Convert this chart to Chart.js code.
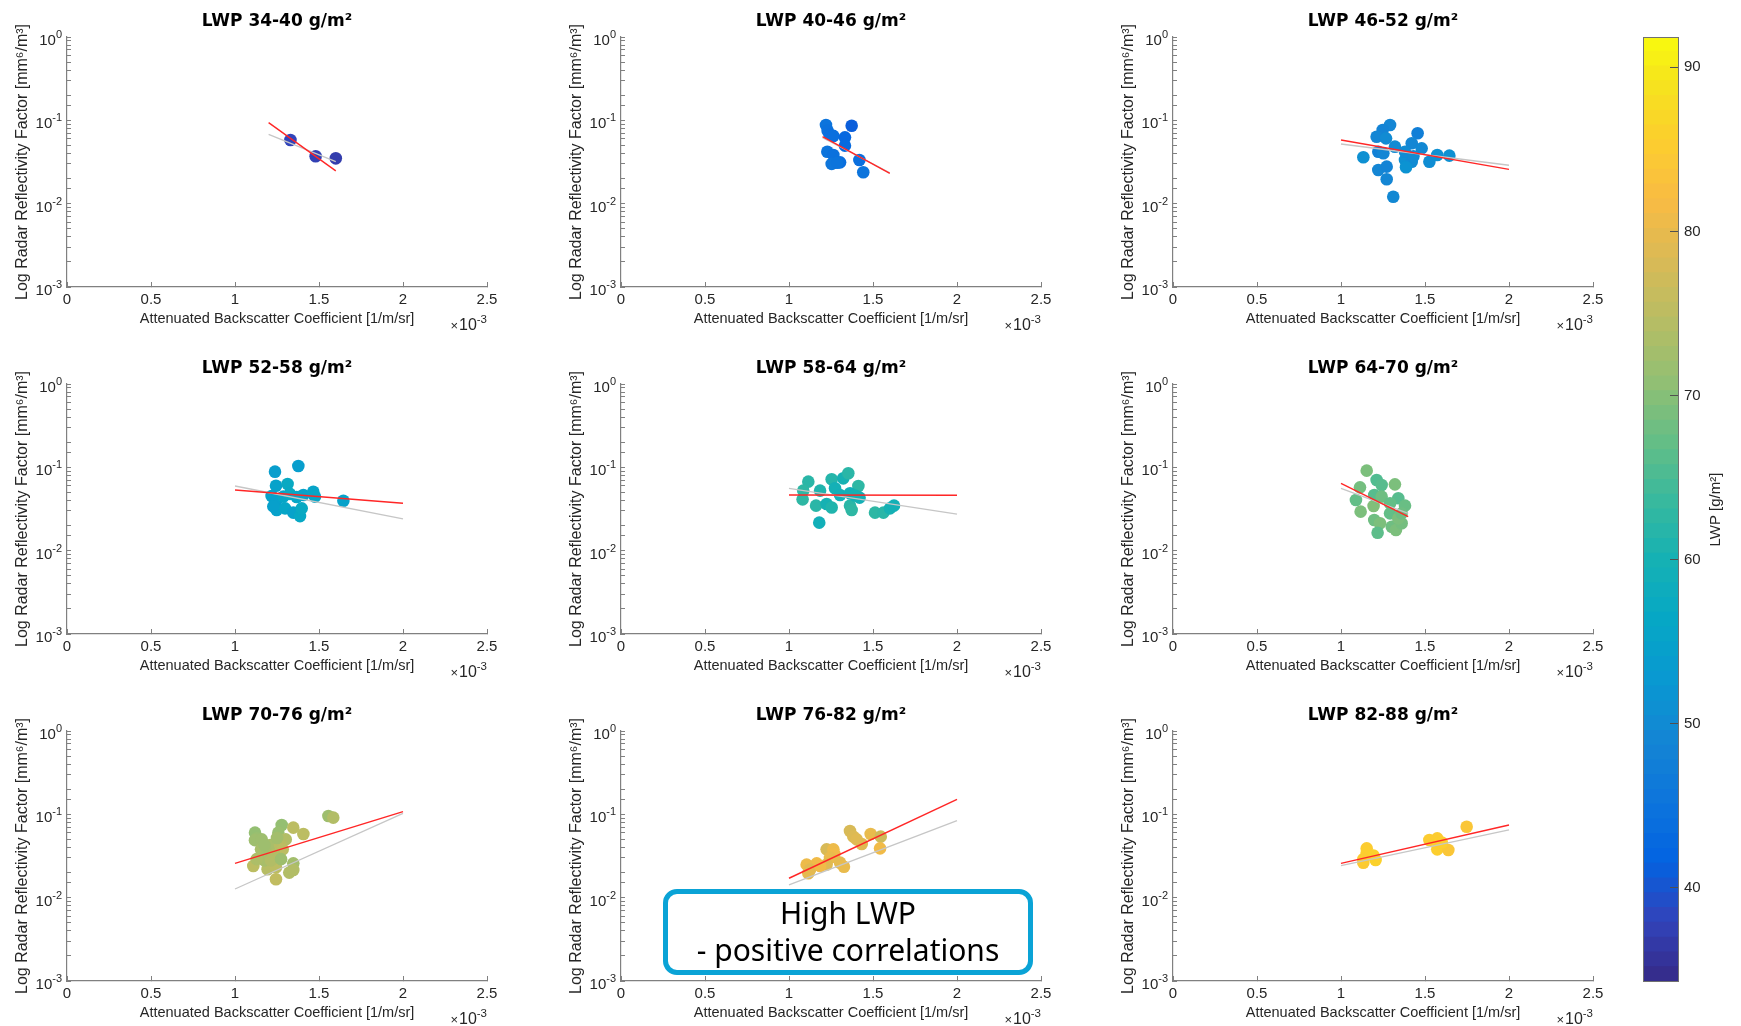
<!DOCTYPE html>
<html>
<head>
<meta charset="utf-8">
<script src="https://cdn.jsdelivr.net/npm/chart.js@4.4.1/dist/chart.umd.min.js"></script>
<style>
    html, body { margin: 0; padding: 0; background: #fff; width: 1741px; height: 1026px; overflow: hidden; }
    body { position: relative; }
    canvas { position: absolute; }
    #note {
        position: absolute; left: 663px; top: 889px; width: 360px; height: 76px;
        border: 5px solid #0aa3d6; border-radius: 14px; background: #fff; z-index: 5;
        font-family: "Noto Sans", sans-serif; font-size: 30px; line-height: 37px;
        text-align: center; color: #000;
    }
</style>
</head>
<body>
<div id="note">High LWP<br>- positive correlations</div>
<script>
// ===== DATA =====
// x in units of 1e-3 1/m/sr, y in mm^6/m^3, lwp in g/m^2 (colour)
const panelTitles = [
    "LWP 34-40 g/m²", "LWP 40-46 g/m²", "LWP 46-52 g/m²",
    "LWP 52-58 g/m²", "LWP 58-64 g/m²", "LWP 64-70 g/m²",
    "LWP 70-76 g/m²", "LWP 76-82 g/m²", "LWP 82-88 g/m²",
];

const xValues = [
    [1.33, 1.48, 1.60],
    [1.22, 1.23, 1.244, 1.264, 1.373, 1.333, 1.333, 1.228, 1.264, 1.254, 1.304, 1.286, 1.419, 1.442],
    [1.133, 1.292, 1.248, 1.212, 1.268, 1.222, 1.252, 1.321, 1.456, 1.421, 1.48, 1.381, 1.421, 1.387, 1.526, 1.573, 1.645, 1.222, 1.272, 1.272, 1.311, 1.381, 1.431],
    [1.238, 1.377, 1.244, 1.313, 1.218, 1.248, 1.248, 1.298, 1.347, 1.387, 1.397, 1.407, 1.466, 1.476, 1.645, 1.288, 1.327, 1.367, 1.228],
    [1.115, 1.085, 1.081, 1.185, 1.161, 1.18, 1.254, 1.323, 1.353, 1.413, 1.274, 1.304, 1.224, 1.254, 1.363, 1.373, 1.42, 1.512, 1.562, 1.601, 1.625, 1.363, 1.393],
    [1.153, 1.212, 1.242, 1.321, 1.113, 1.089, 1.117, 1.194, 1.198, 1.242, 1.198, 1.232, 1.218, 1.292, 1.302, 1.327, 1.361, 1.341, 1.341, 1.381, 1.361, 1.292],
    [1.556, 1.585, 1.278, 1.258, 1.347, 1.407, 1.119, 1.129, 1.119, 1.159, 1.302, 1.21, 1.268, 1.284, 1.155, 1.194, 1.234, 1.109, 1.194, 1.244, 1.244, 1.323, 1.347, 1.347, 1.175, 1.129, 1.214, 1.274, 1.175, 1.25],
    [1.363, 1.383, 1.433, 1.486, 1.546, 1.542, 1.403, 1.224, 1.264, 1.27, 1.244, 1.304, 1.327, 1.224, 1.165, 1.105, 1.125, 1.115, 1.185],
    [1.133, 1.153, 1.153, 1.133, 1.193, 1.206, 1.526, 1.573, 1.579, 1.573, 1.639, 1.748, 1.6],
];

const yValues = [
    [0.058, 0.037, 0.035],
    [0.088, 0.075, 0.067, 0.065, 0.086, 0.0625, 0.0497, 0.042, 0.0384, 0.03, 0.0313, 0.031, 0.0334, 0.0238],
    [0.036, 0.088, 0.0766, 0.0636, 0.0608, 0.042, 0.0402, 0.0483, 0.0699, 0.053, 0.0461, 0.0334, 0.0319, 0.0273, 0.0319, 0.0384, 0.0377, 0.0254, 0.0278, 0.0196, 0.0121, 0.042, 0.037],
    [0.0887, 0.1038, 0.06, 0.063, 0.0453, 0.0406, 0.0308, 0.0322, 0.0286, 0.026, 0.0322, 0.0466, 0.051, 0.0445, 0.0398, 0.0445, 0.048, 0.044, 0.034],
    [0.0673, 0.0525, 0.0413, 0.0525, 0.0347, 0.0217, 0.0718, 0.0738, 0.0848, 0.0597, 0.056, 0.0466, 0.0363, 0.033, 0.0347, 0.0308, 0.0433, 0.0286, 0.0286, 0.0322, 0.0347, 0.0488, 0.046],
    [0.0912, 0.0705, 0.0614, 0.0625, 0.0575, 0.0406, 0.0294, 0.0344, 0.0466, 0.0445, 0.0233, 0.0213, 0.0164, 0.028, 0.0194, 0.0177, 0.0213, 0.0244, 0.0425, 0.0347, 0.028, 0.037],
    [0.0955, 0.0912, 0.0745, 0.0603, 0.0692, 0.058, 0.0603, 0.0515, 0.049, 0.05, 0.05, 0.0428, 0.0428, 0.038, 0.038, 0.034, 0.0325, 0.024, 0.0219, 0.0231, 0.0166, 0.02, 0.0258, 0.0215, 0.028, 0.029, 0.028, 0.029, 0.043, 0.052],
    [0.063, 0.054, 0.044, 0.058, 0.054, 0.039, 0.05, 0.038, 0.038, 0.0334, 0.03, 0.0263, 0.0235, 0.025, 0.0258, 0.0249, 0.0217, 0.0196, 0.024],
    [0.0263, 0.039, 0.0347, 0.029, 0.032, 0.0283, 0.0492, 0.0515, 0.044, 0.038, 0.0373, 0.0711, 0.046],
];

const lwpValues = [
    [38, 37.5, 37],
    [45, 44.5, 44, 44, 41, 42.5, 43, 45, 44.5, 45.5, 44, 45, 44, 45],
    [51, 49, 48.5, 49, 50, 48, 49, 50, 47.5, 49, 49.5, 51, 50, 51.5, 50.5, 51, 51, 49, 48.5, 49, 49.5, 50, 50],
    [54, 54, 55, 57, 55, 54.5, 55, 56, 55, 56.5, 57, 55, 55.5, 56, 55, 56, 57, 56, 54.5],
    [62, 62.5, 62.5, 61, 62, 59, 61.5, 60, 62, 62.5, 59.5, 59, 60, 61, 62, 62.5, 59.5, 62.5, 62, 60, 59.5, 59, 60],
    [69, 65.5, 66, 69, 68.5, 67, 69, 69.5, 66, 68, 68, 69, 66.5, 67, 68, 69, 68.5, 69, 66, 67.5, 68, 67],
    [72, 74, 71, 71.5, 75, 75, 71, 71.5, 72, 72, 74, 73, 74.5, 75, 73, 72.5, 74, 75, 74.5, 75, 75.5, 74, 72.5, 74, 73, 73.5, 74, 72, 72, 72.5],
    [78, 78.5, 79, 80, 77, 81, 79, 78, 80.5, 81, 80, 79.5, 80, 79, 81, 80.5, 79, 79.5, 81],
    [84.5, 85, 85.5, 85, 86, 86, 85, 85, 86, 85.5, 84, 84, 85.5],
];

// fit lines (end points)
const redFitX = [[1.2, 1.6], [1.2, 1.6], [1.0, 2.0], [1.0, 2.0], [1.0, 2.0], [1.0, 1.4], [1.0, 2.0], [1.0, 2.0], [1.0, 2.0]];
const redFitY = [[0.094, 0.0247], [0.0636, 0.0231], [0.058, 0.0258], [0.0535, 0.037], [0.0466, 0.0463], [0.0643, 0.0256], [0.0258, 0.1076], [0.0171, 0.151], [0.0258, 0.0745]];
const grayFitX = [[1.2, 1.6], [1.2, 1.6], [1.0, 2.0], [1.0, 2.0], [1.0, 2.0], [1.0, 1.4], [1.0, 2.0], [1.0, 2.0], [1.0, 2.0]];
const grayFitY = [[0.068, 0.032], [0.062, 0.0235], [0.052, 0.0289], [0.0597, 0.024], [0.056, 0.0275], [0.056, 0.028], [0.0127, 0.1028], [0.0142, 0.0839], [0.0242, 0.0649]];

// ticks
const xTicks = [0, 0.5, 1, 1.5, 2, 2.5];
const xTickLabels = ["0", "0.5", "1", "1.5", "2", "2.5"];
const yDecades = [1, 0.1, 0.01, 0.001];
const yExpLabels = ["0", "-1", "-2", "-3"];
const cbTicks = [40, 50, 60, 70, 80, 90];
const CB_MIN = 34.24;
const CB_MAX = 91.85;

// ===== STYLE / LAYOUT =====
const FONT = '"Liberation Sans", Arial, sans-serif';
const TITLE_FONT = '"DejaVu Sans", sans-serif';
const TXC = "#262626";
const AXC = "#808080";
const plotLeft = [67, 621, 1173];
const plotTop = [37, 384, 731];
const PW = 420, PH = 250;
const AXW = 67, TH = 37, XAH = 47, PR = 25;

Chart.defaults.font.family = FONT;

// parula colormap stops
const parulaStops = ["#352a87", "#3243ba", "#0363e1", "#0d75dc", "#1485d4", "#0998d1", "#06a7c6", "#15b1b4",
    "#38b99e", "#65be86", "#92bf73", "#b7bd64", "#d9ba56", "#f8bb44", "#fcce2e", "#f5e41d", "#f9fb0e"];
const stopPos = [0, 4, 8, 12, 16, 20, 24, 28, 32, 36, 40, 44, 48, 52, 56, 60, 63].map((i) => i / 63);

function hexRgb(h) {
    return [parseInt(h.slice(1, 3), 16), parseInt(h.slice(3, 5), 16), parseInt(h.slice(5, 7), 16)];
}

function parula(t) {
    t = Math.max(0, Math.min(1, t));
    let k = 0;
    while (k < stopPos.length - 2 && t > stopPos[k + 1]) k++;
    const f = (t - stopPos[k]) / (stopPos[k + 1] - stopPos[k]);
    const a = hexRgb(parulaStops[k]), b = hexRgb(parulaStops[k + 1]);
    const c = a.map((v, j) => Math.round(v + (b[j] - v) * f));
    return `rgb(${c[0]},${c[1]},${c[2]})`;
}

function lwpColor(v) {
    return parula((v - CB_MIN) / (CB_MAX - CB_MIN));
}

const note = document.getElementById("note");

// y tick labels 10^n and x multiplier, drawn with the scales' pixels
const axisLabels = {
    id: "axisLabels",
    afterDraw(chart) {
        const ctx = chart.ctx;
        const ys = chart.scales.y;
        const xs = chart.scales.x;
        ctx.save();
        ctx.fillStyle = TXC;
        ctx.textAlign = "right";
        ctx.textBaseline = "alphabetic";
        yDecades.forEach((v, k) => {
            const py = ys.getPixelForValue(v);
            const right = ys.right - 5;
            ctx.font = `11px ${FONT}`;
            const ew = ctx.measureText(yExpLabels[k]).width;
            ctx.fillText(yExpLabels[k], right, py + 1);
            ctx.font = `15px ${FONT}`;
            ctx.fillText("10", right - ew, py + 8);
        });
        const bx = xs.right, by = xs.top;
        ctx.font = `11.5px ${FONT}`;
        const ew = ctx.measureText("-3").width;
        ctx.fillText("-3", bx, by + 36);
        ctx.font = `16px ${FONT}`;
        const w10 = ctx.measureText("10").width;
        ctx.fillText("10", bx - ew, by + 43);
        ctx.font = `13px ${FONT}`;
        ctx.fillText("×", bx - ew - w10 - 1, by + 43);
        ctx.restore();
    },
};

function toPoints(xs, ys) {
    return xs.map((x, k) => ({ x, y: ys[k] }));
}

function makePanel(i) {
    const col = i % 3, row = Math.floor(i / 3);
    const cv = document.createElement("canvas");
    cv.width = AXW + PW + PR;
    cv.height = TH + PH + XAH;
    cv.style.left = (plotLeft[col] - AXW) + "px";
    cv.style.top = (plotTop[row] - TH) + "px";
    document.body.insertBefore(cv, note);

    new Chart(cv.getContext("2d"), {
        type: "scatter",
        data: {
            datasets: [
                {
                    data: toPoints(redFitX[i], redFitY[i]),
                    showLine: true, borderColor: "#ff2626", borderWidth: 1.4, pointRadius: 0,
                },
                {
                    data: toPoints(grayFitX[i], grayFitY[i]),
                    showLine: true, borderColor: "#c6c6c6", borderWidth: 1.3, pointRadius: 0,
                },
                {
                    data: toPoints(xValues[i], yValues[i]),
                    backgroundColor: lwpValues[i].map(lwpColor),
                    pointRadius: 6.3, borderWidth: 0,
                },
            ],
        },
        options: {
            responsive: false,
            animation: false,
            events: [],
            layout: { padding: { left: 0, right: PR, top: 0, bottom: 0 } },
            plugins: {
                legend: { display: false },
                tooltip: { enabled: false },
                title: {
                    display: true, text: panelTitles[i], fullSize: false, color: "#000",
                    font: { family: TITLE_FONT, size: 17, weight: "bold" },
                    padding: { top: 11, bottom: 5.6 },
                },
            },
            scales: {
                x: {
                    type: "linear", min: 0, max: 2.5,
                    afterBuildTicks: (s) => { s.ticks = xTicks.map((v) => ({ value: v })); },
                    afterFit: (s) => { s.height = XAH; },
                    grid: { drawOnChartArea: false, color: AXC, tickLength: -5, lineWidth: 1 },
                    border: { color: AXC, width: 1.2 },
                    ticks: {
                        color: TXC, font: { family: FONT, size: 15 }, padding: 9,
                        maxRotation: 0, autoSkip: false,
                        callback: (v, idx) => xTickLabels[idx],
                    },
                    title: {
                        display: true, text: "Attenuated Backscatter Coefficient [1/m/sr]", color: TXC,
                        font: { family: FONT, size: 14.5 }, padding: { top: 0, bottom: 6 },
                    },
                },
                y: {
                    type: "logarithmic", min: 0.001, max: 1,
                    afterFit: (s) => { s.width = AXW; },
                    grid: { drawOnChartArea: false, color: AXC, tickLength: -4, lineWidth: 1 },
                    border: { color: AXC, width: 1.2 },
                    ticks: { display: false },
                    title: {
                        display: true, text: "Log Radar Reflectivity Factor [mm⁶/m³]", color: TXC,
                        font: { family: FONT, size: 16 }, padding: { top: 13, bottom: 0 },
                    },
                },
            },
        },
        plugins: [axisLabels],
    });
}

// ===== COLORBAR =====
const cbFrame = {
    id: "cbFrame",
    afterDraw(chart) {
        const ctx = chart.ctx;
        const a = chart.chartArea;
        ctx.save();
        ctx.strokeStyle = "#707070";
        ctx.lineWidth = 1;
        ctx.strokeRect(a.left + 0.5, a.top + 0.5, a.right - a.left - 1, a.bottom - a.top - 1);
        ctx.translate(86, (a.top + a.bottom) / 2);
        ctx.rotate(-Math.PI / 2);
        ctx.fillStyle = TXC;
        ctx.font = `15px ${FONT}`;
        ctx.textAlign = "center";
        ctx.textBaseline = "middle";
        ctx.fillText("LWP [g/m²]", 0, 0);
        ctx.restore();
    },
};

function makeColorbar() {
    const cv = document.createElement("canvas");
    cv.width = 111;
    cv.height = 965;
    cv.style.left = "1630px";
    cv.style.top = "27px";
    document.body.insertBefore(cv, note);

    const N = 64;
    const step = (CB_MAX - CB_MIN) / N;
    const segments = [];
    for (let k = 0; k < N; k++) {
        const lo = CB_MIN + k * step;
        const hi = Math.min(CB_MAX, lo + step * 1.05);
        segments.push({
            data: [[lo, hi]],
            backgroundColor: parula((k + 0.5) / N),
            borderWidth: 0, barPercentage: 1, categoryPercentage: 1, grouped: false,
        });
    }

    new Chart(cv.getContext("2d"), {
        type: "bar",
        data: { labels: [""], datasets: segments },
        options: {
            responsive: false,
            animation: false,
            events: [],
            layout: { padding: { left: 13, top: 10, bottom: 10, right: 0 } },
            plugins: { legend: { display: false }, tooltip: { enabled: false } },
            scales: {
                x: { display: false },
                y: {
                    position: "right", min: CB_MIN, max: CB_MAX,
                    afterBuildTicks: (s) => { s.ticks = cbTicks.map((v) => ({ value: v })); },
                    afterFit: (s) => { s.width = 62; s.paddingTop = 0; s.paddingBottom = 0; },
                    grid: { drawOnChartArea: false, color: "#505050", tickLength: -9, z: 1 },
                    border: { display: false },
                    ticks: { color: TXC, font: { family: FONT, size: 15 }, padding: 14 },
                },
            },
        },
        plugins: [cbFrame],
    });
}

// ===== START =====
for (let i = 0; i < 9; i++) makePanel(i);
makeColorbar();
</script>
</body>
</html>
